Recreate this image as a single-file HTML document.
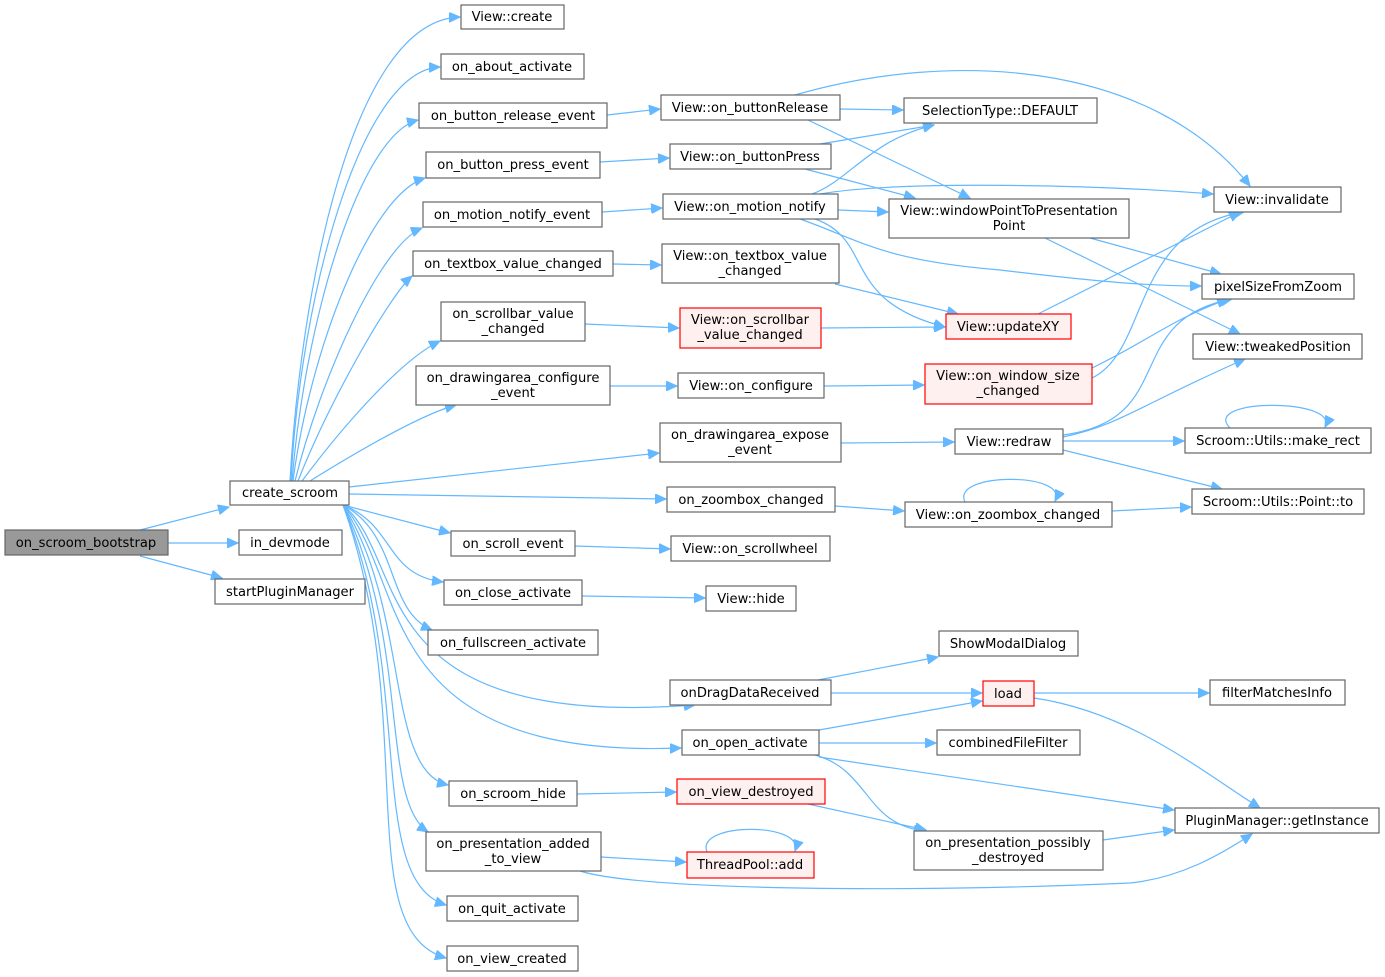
<!DOCTYPE html>
<html><head><meta charset="utf-8"><style>
html,body{margin:0;padding:0;background:#fff;}
svg{display:block;}
text{font-family:"DejaVu Sans","Liberation Sans",sans-serif;font-size:13.1px;fill:#000;text-anchor:middle;}
.n{fill:#fff;stroke:#666;stroke-width:1.2;}
.r{fill:#fff0f0;stroke:#ff0000;stroke-width:1.2;}
.g{fill:#999;stroke:#666;stroke-width:1.2;}
path{fill:none;stroke:#63b8ff;stroke-width:1.2;marker-end:url(#a);}
</style></head><body>
<svg width="1385" height="977" viewBox="0 0 1385 977" xmlns="http://www.w3.org/2000/svg">
<defs><marker id="a" markerUnits="userSpaceOnUse" markerWidth="12" markerHeight="10" refX="11" refY="5" orient="auto"><polygon points="0,0 11,5 0,10" fill="#63b8ff" stroke="#63b8ff"/></marker></defs>
<path d="M140,530 L229,507"/>
<path d="M168,543 L238,543"/>
<path d="M140,556 L222,578"/>
<path d="M290,481 C300,300 350,20 460,17"/>
<path d="M291,481 C300,300 360,70 440,67"/>
<path d="M292,481 C305,320 360,135 418,120"/>
<path d="M293,481 C310,350 370,195 425,178"/>
<path d="M295,481 C320,380 380,245 422,228"/>
<path d="M298,481 C330,400 390,295 412,276"/>
<path d="M302,481 C340,430 400,360 440,341"/>
<path d="M310,481 C360,450 420,415 456,405"/>
<path d="M349,487 L659,453"/>
<path d="M349,494 L666,499"/>
<path d="M343,505 L450,533"/>
<path d="M343,505 C395,525 385,575 443,582"/>
<path d="M343,505 C400,535 385,610 432,630"/>
<path d="M343,505 C410,560 360,730 695,705"/>
<path d="M343,505 C410,580 370,760 681,748"/>
<path d="M343,505 C410,610 385,770 448,785"/>
<path d="M343,505 C410,640 380,800 428,832"/>
<path d="M343,505 C415,680 365,880 446,905"/>
<path d="M343,505 C420,720 350,930 446,958"/>
<path d="M607,115 L660,109"/>
<path d="M600,162 L669,158"/>
<path d="M602,212 L662,208"/>
<path d="M613,264 L661,265"/>
<path d="M585,324 L679,328"/>
<path d="M610,386 L677,386"/>
<path d="M841,443 L954,442"/>
<path d="M835,506 L904,511"/>
<path d="M575,546 L670,549"/>
<path d="M582,596 L705,598"/>
<path d="M818,680 L938,657"/>
<path d="M831,693 L982,693"/>
<path d="M819,730 L982,701"/>
<path d="M819,743 L936,743"/>
<path d="M819,757 L1174,810"/>
<path d="M815,755 C870,770 865,825 925,831"/>
<path d="M577,794 L676,792"/>
<path d="M808,804 L926,830"/>
<path d="M601,857 L686,862"/>
<path d="M580,871 C640,890 900,893 1130,883 C1180,878 1220,855 1252,834"/>
<path d="M707,852 C695,822 805,822 795,851"/>
<path d="M1103,840 L1174,830"/>
<path d="M1034,693 L1209,693"/>
<path d="M1034,698 C1130,712 1200,770 1260,808"/>
<path d="M840,109 L903,110"/>
<path d="M808,120 L970,198"/>
<path d="M795,95 C950,50 1150,60 1250,186"/>
<path d="M820,144 L934,125"/>
<path d="M805,169 L915,198"/>
<path d="M812,194 C850,180 870,140 934,125"/>
<path d="M820,194 C900,180 1100,185 1213,194"/>
<path d="M838,210 L888,212"/>
<path d="M800,219 C860,240 880,260 1000,270 C1100,282 1150,286 1201,286"/>
<path d="M815,219 C875,240 840,300 945,327"/>
<path d="M835,284 L958,314"/>
<path d="M821,328 L945,327"/>
<path d="M824,386 L924,385"/>
<path d="M1090,238 L1221,274"/>
<path d="M1045,238 L1240,334"/>
<path d="M1038,314 L1240,212"/>
<path d="M1092,378 C1150,350 1130,230 1244,212"/>
<path d="M1092,368 C1150,340 1170,320 1228,299"/>
<path d="M1063,435 C1180,420 1120,320 1232,299"/>
<path d="M1063,437 C1120,425 1140,405 1245,359"/>
<path d="M1063,441 L1184,441"/>
<path d="M1063,450 L1222,489"/>
<path d="M1230,428 C1200,398 1340,398 1325,427"/>
<path d="M1112,511 L1191,507"/>
<path d="M965,502 C950,472 1070,472 1055,501"/>
<rect class="g" x="5" y="530" width="163" height="25"/><text x="86" y="547">on_scroom_bootstrap</text>
<rect class="n" x="230" y="481" width="119" height="24"/><text x="290" y="497">create_scroom</text>
<rect class="n" x="239" y="530" width="103" height="25"/><text x="290" y="547">in_devmode</text>
<rect class="n" x="215" y="579" width="150" height="25"/><text x="290" y="596">startPluginManager</text>
<rect class="n" x="461" y="5" width="103" height="24"/><text x="512" y="21">View::create</text>
<rect class="n" x="441" y="54" width="143" height="25"/><text x="512" y="71">on_about_activate</text>
<rect class="n" x="419" y="103" width="188" height="25"/><text x="513" y="120">on_button_release_event</text>
<rect class="n" x="426" y="152" width="174" height="26"/><text x="513" y="169">on_button_press_event</text>
<rect class="n" x="423" y="202" width="179" height="25"/><text x="512" y="219">on_motion_notify_event</text>
<rect class="n" x="413" y="251" width="200" height="25"/><text x="513" y="268">on_textbox_value_changed</text>
<rect class="n" x="441" y="302" width="144" height="39"/><text x="513" y="318">on_scrollbar_value</text><text x="513" y="333">_changed</text>
<rect class="n" x="416" y="366" width="194" height="39"/><text x="513" y="382">on_drawingarea_configure</text><text x="513" y="397">_event</text>
<rect class="n" x="660" y="423" width="181" height="39"/><text x="750" y="439">on_drawingarea_expose</text><text x="750" y="454">_event</text>
<rect class="n" x="667" y="487" width="168" height="25"/><text x="751" y="504">on_zoombox_changed</text>
<rect class="n" x="451" y="531" width="124" height="25"/><text x="513" y="548">on_scroll_event</text>
<rect class="n" x="444" y="580" width="138" height="25"/><text x="513" y="597">on_close_activate</text>
<rect class="n" x="428" y="630" width="170" height="25"/><text x="513" y="647">on_fullscreen_activate</text>
<rect class="n" x="670" y="680" width="161" height="25"/><text x="750" y="697">onDragDataReceived</text>
<rect class="n" x="682" y="730" width="137" height="25"/><text x="750" y="747">on_open_activate</text>
<rect class="n" x="449" y="781" width="128" height="25"/><text x="513" y="798">on_scroom_hide</text>
<rect class="n" x="426" y="832" width="175" height="39"/><text x="513" y="848">on_presentation_added</text><text x="513" y="863">_to_view</text>
<rect class="n" x="447" y="896" width="131" height="25"/><text x="512" y="913">on_quit_activate</text>
<rect class="n" x="447" y="946" width="131" height="25"/><text x="512" y="963">on_view_created</text>
<rect class="n" x="661" y="95" width="179" height="25"/><text x="750" y="112">View::on_buttonRelease</text>
<rect class="n" x="670" y="144" width="161" height="25"/><text x="750" y="161">View::on_buttonPress</text>
<rect class="n" x="663" y="194" width="175" height="25"/><text x="750" y="211">View::on_motion_notify</text>
<rect class="n" x="662" y="244" width="177" height="39"/><text x="750" y="260">View::on_textbox_value</text><text x="750" y="275">_changed</text>
<rect class="r" x="680" y="308" width="141" height="40"/><text x="750" y="324">View::on_scrollbar</text><text x="750" y="339">_value_changed</text>
<rect class="n" x="678" y="373" width="146" height="25"/><text x="751" y="390">View::on_configure</text>
<rect class="n" x="671" y="536" width="159" height="25"/><text x="750" y="553">View::on_scrollwheel</text>
<rect class="n" x="706" y="586" width="90" height="25"/><text x="751" y="603">View::hide</text>
<rect class="n" x="904" y="98" width="193" height="25"/><text x="1000" y="115">SelectionType::DEFAULT</text>
<rect class="n" x="889" y="199" width="240" height="39"/><text x="1009" y="215">View::windowPointToPresentation</text><text x="1009" y="230">Point</text>
<rect class="r" x="946" y="314" width="125" height="25"/><text x="1008" y="331">View::updateXY</text>
<rect class="r" x="925" y="364" width="167" height="40"/><text x="1008" y="380">View::on_window_size</text><text x="1008" y="395">_changed</text>
<rect class="n" x="955" y="429" width="108" height="25"/><text x="1009" y="446">View::redraw</text>
<rect class="n" x="905" y="502" width="207" height="25"/><text x="1008" y="519">View::on_zoombox_changed</text>
<rect class="n" x="939" y="631" width="139" height="25"/><text x="1008" y="648">ShowModalDialog</text>
<rect class="r" x="983" y="681" width="51" height="25"/><text x="1008" y="698">load</text>
<rect class="n" x="937" y="730" width="143" height="25"/><text x="1008" y="747">combinedFileFilter</text>
<rect class="r" x="677" y="779" width="148" height="25"/><text x="751" y="796">on_view_destroyed</text>
<rect class="r" x="687" y="852" width="127" height="26"/><text x="750" y="869">ThreadPool::add</text>
<rect class="n" x="914" y="831" width="189" height="39"/><text x="1008" y="847">on_presentation_possibly</text><text x="1008" y="862">_destroyed</text>
<rect class="n" x="1214" y="187" width="127" height="25"/><text x="1277" y="204">View::invalidate</text>
<rect class="n" x="1202" y="274" width="152" height="25"/><text x="1278" y="291">pixelSizeFromZoom</text>
<rect class="n" x="1193" y="334" width="169" height="25"/><text x="1278" y="351">View::tweakedPosition</text>
<rect class="n" x="1185" y="428" width="186" height="25"/><text x="1278" y="445">Scroom::Utils::make_rect</text>
<rect class="n" x="1192" y="489" width="172" height="25"/><text x="1278" y="506">Scroom::Utils::Point::to</text>
<rect class="n" x="1210" y="680" width="135" height="25"/><text x="1277" y="697">filterMatchesInfo</text>
<rect class="n" x="1175" y="808" width="204" height="25"/><text x="1277" y="825">PluginManager::getInstance</text>
</svg>
</body></html>
